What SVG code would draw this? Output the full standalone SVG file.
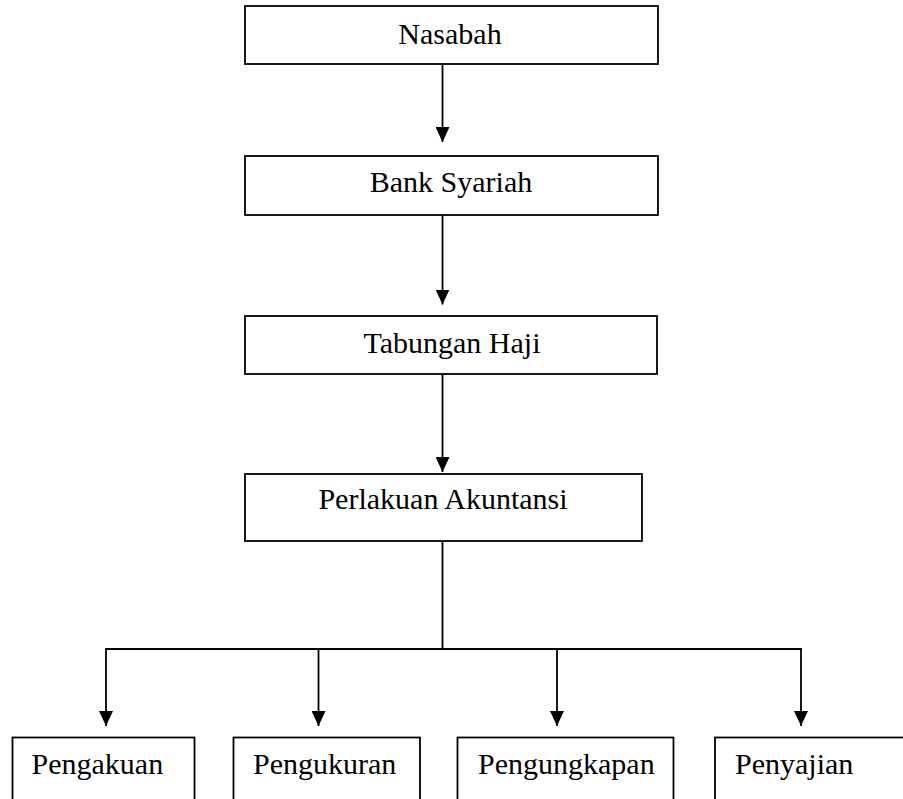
<svg xmlns="http://www.w3.org/2000/svg" width="903" height="799" viewBox="0 0 903 799">
<style>
.box{fill:#fff;stroke:#000;stroke-width:1.8}
.lbl{font-family:"Liberation Serif","Times New Roman",serif;font-size:30px;fill:#000}
.c{text-anchor:middle}
.ln{stroke:#000;stroke-width:1.8;fill:none}
</style>
<defs>
<marker id="ah" markerUnits="userSpaceOnUse" viewBox="0 0 15 14" refX="15" refY="7" markerWidth="15" markerHeight="14" orient="auto">
<path d="M0,0 L15,7 L0,14 z" fill="#000"/>
</marker>
</defs>
<rect width="903" height="799" fill="#fff"/>
<g id="connectors">
<line class="ln" x1="442.5" y1="64" x2="442.5" y2="142" marker-end="url(#ah)"/>
<line class="ln" x1="442.5" y1="215" x2="442.5" y2="304.5" marker-end="url(#ah)"/>
<line class="ln" x1="442.5" y1="374" x2="442.5" y2="472" marker-end="url(#ah)"/>
<polyline class="ln" points="442.5,541 442.5,649 106,649"/>
<line class="ln" x1="442.5" y1="649" x2="801" y2="649"/>
<line class="ln" x1="106" y1="648.1" x2="106" y2="726" marker-end="url(#ah)"/>
<line class="ln" x1="318.5" y1="649" x2="318.5" y2="726" marker-end="url(#ah)"/>
<line class="ln" x1="557" y1="649" x2="557" y2="726" marker-end="url(#ah)"/>
<line class="ln" x1="801" y1="648.1" x2="801" y2="726" marker-end="url(#ah)"/>
</g>
<g id="nasabah">
<rect class="box" x="245" y="6" width="413" height="58"/>
<text class="lbl c" x="450" y="44">Nasabah</text>
</g>
<g id="bank-syariah">
<rect class="box" x="245" y="156" width="413" height="59"/>
<text class="lbl c" x="451" y="192">Bank Syariah</text>
</g>
<g id="tabungan-haji">
<rect class="box" x="245" y="316" width="412" height="58"/>
<text class="lbl c" x="452" y="353">Tabungan Haji</text>
</g>
<g id="perlakuan-akuntansi">
<rect class="box" x="245" y="474" width="397" height="67"/>
<text class="lbl c" x="443" y="509">Perlakuan Akuntansi</text>
</g>
<g id="pengakuan">
<rect class="box" x="12.5" y="737.5" width="182" height="80"/>
<text class="lbl" x="31.5" y="774">Pengakuan</text>
</g>
<g id="pengukuran">
<rect class="box" x="233.5" y="737.5" width="186.5" height="80"/>
<text class="lbl" x="253" y="774">Pengukuran</text>
</g>
<g id="pengungkapan">
<rect class="box" x="457.5" y="737.5" width="216" height="80"/>
<text class="lbl" x="478" y="774">Pengungkapan</text>
</g>
<g id="penyajian">
<rect class="box" x="715" y="737.5" width="200" height="80"/>
<text class="lbl" x="735" y="774">Penyajian</text>
</g>
</svg>
